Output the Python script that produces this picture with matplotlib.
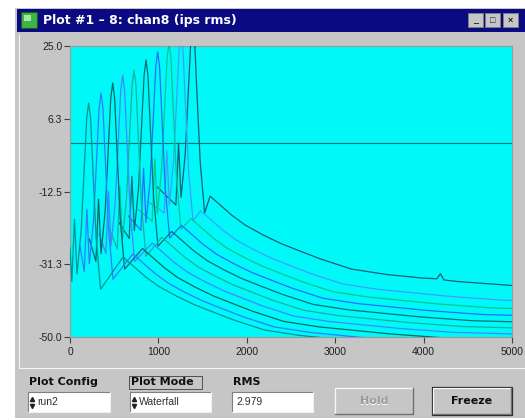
import matplotlib
matplotlib.use('Agg')
import matplotlib.pyplot as plt
from matplotlib.patches import Rectangle

plt.rcParams['font.family'] = ['Liberation Sans', 'DejaVu Sans']

# waterfall traces, front trace first (x in plot units, y in ips rms units)
knee_x = [600, 710, 820, 930, 1040, 1150, 1260, 1370, 1480, 1585]
knee_y = [-29.4, -28.6, -27.2, -25.8, -24.3, -22.8, -21.2, -19.5, -17.5, -13.7]
peak_x = [211, 351, 483, 596, 724, 860, 992, 1120, 1256, 1388]
peak_y = [10.3, 12.9, 15.5, 17.5, 18.8, 21.4, 23.5, 25.8, 28.0, 30.0]

# pieces of the spectrum shape shared by all traces
lead_dx = [0]
lead_dy = [-27.0]
peak_dx = [-190, -160, -132, -85, -50, -22, 0, 22, 50, 85, 135]
peak_dy = [-46, -30, -44, -33, -17, -4, 0, -4, -18, -35, -48]
tail_dx = [0, 100, 250, 400, 600, 800, 1000, 1250, 1600, 2000, 2400, 2800, 3400, 4400]
tail_dy = [0, -2, -5, -7.5, -10, -12.2, -14, -16.2, -18.8, -20.2, -21.1, -22.0, -23.0, -23.6]

# small blip on the back trace
blip_x = [4150, 4190, 4230]
blip_y = [-35.0, -33.7, -35.3]

trace_colors = ['#009494', '#2a7fff', '#006a6a', '#3a8cff', '#10b4a0',
                '#00707a', '#2070ff', '#00c890', '#3aa0ff', '#10607a']

y_ticks = [25, 6.25, -12.5, -31.25, -50]
y_labels = ['25.0', '6.3', '-12.5', '-31.3', '-50.0']
x_ticks = [0, 1000, 2000, 3000, 4000, 5000]

W, H = 525, 420
fig = plt.figure(figsize=(W / 100, H / 100), dpi=100)

# ---- window chrome, drawn in pixel coordinates ----
bg = fig.add_axes([0, 0, 1, 1])
bg.set_xlim(0, W)
bg.set_ylim(H, 0)
bg.axis('off')
bg.set_zorder(0)

GRAY = '#c6c6c6'
UI = ['DejaVu Sans']
bg.add_patch(Rectangle((15, 8), 512, 410, facecolor=GRAY, edgecolor='none'))
bg.add_patch(Rectangle((17, 9), 510, 23, facecolor='#0a0a82', edgecolor='none'))
# icon
bg.add_patch(Rectangle((21, 12), 16, 16, facecolor='#3cb44a', edgecolor='#1a5a1a', lw=0.8))
bg.add_patch(Rectangle((24, 15), 7, 6, facecolor='#a8e8a0', edgecolor='none'))
bg.text(43, 20.5, 'Plot #1 \u2013 8: chan8 (ips rms)', color='white', fontsize=9,
        fontweight='bold', va='center', ha='left', family=UI)
# title bar buttons
for bx, glyph in [(468, '_'), (485, '\u25a1'), (503, '\u00d7')]:
    bg.add_patch(Rectangle((bx, 13), 15, 14, facecolor=GRAY, edgecolor='#808080', lw=0.6))
    bg.text(bx + 7.5, 20.5, glyph, fontsize=6.5, fontweight='bold', ha='center',
            va='center', color='#202020')

# plot panel frame
bg.plot([19, 19], [35, 368], color='#f4f4f4', lw=0.8)
bg.plot([19, 525], [368, 368], color='#f4f4f4', lw=0.8)

# bottom controls
def field(x, y, w, h, txt, spinner):
    bg.add_patch(Rectangle((x, y), w, h, facecolor='white', edgecolor='none'))
    bg.plot([x, x, x + w], [y + h, y, y], color='#808080', lw=0.8)
    bg.plot([x, x + w, x + w], [y + h, y + h, y], color='#f0f0f0', lw=0.8)
    tx = x + 4
    if spinner:
        bg.plot([x + 4], [y + 6.5], marker='^', ms=3, color='#202020')
        bg.plot([x + 4], [y + 13.5], marker='v', ms=3, color='#202020')
        tx = x + 9
    bg.text(tx, y + h / 2, txt, fontsize=7.5, va='center', ha='left', color='#303030')

def button(x, y, w, h, txt, enabled):
    bg.add_patch(Rectangle((x, y), w, h, facecolor=GRAY, edgecolor='none'))
    bg.plot([x, x, x + w], [y + h, y, y], color='#f8f8f8', lw=0.9)
    bg.plot([x, x + w, x + w], [y + h, y + h, y], color='#707070', lw=1.0)
    if enabled:
        bg.add_patch(Rectangle((x - 1, y - 1), w + 2, h + 2, facecolor='none',
                               edgecolor='#202020', lw=0.9))
        bg.text(x + w / 2, y + h / 2 + 0.5, txt, fontsize=8, fontweight='bold',
                ha='center', va='center', color='#101010', family=UI)
    else:
        bg.text(x + w / 2 + 0.7, y + h / 2 + 1.2, txt, fontsize=8, fontweight='bold',
                ha='center', va='center', color='white', family=UI)
        bg.text(x + w / 2, y + h / 2 + 0.5, txt, fontsize=8, fontweight='bold',
                ha='center', va='center', color='#9a9a9a', family=UI)

bg.text(29, 382, 'Plot Config', fontsize=8, fontweight='bold', va='center',
        color='#101010', family=UI)
bg.text(131, 382, 'Plot Mode', fontsize=8, fontweight='bold', va='center',
        color='#101010', family=UI)
bg.add_patch(Rectangle((129, 375.5), 73, 13, facecolor='none', edgecolor='#505050', lw=0.7))
bg.text(233, 382, 'RMS', fontsize=8, fontweight='bold', va='center',
        color='#101010', family=UI)
field(28, 392, 82, 20, 'run2', True)
field(130, 392, 81, 20, 'Waterfall', True)
field(232, 392, 81, 20, '2.979', False)
button(335, 388, 78, 26, 'Hold', False)
button(433, 388, 78, 26, 'Freeze', True)

# ---- the waterfall plot ----
ax = fig.add_axes([70 / W, (H - 337) / H, 442 / W, 291 / H])
ax.set_zorder(1)
ax.set_facecolor('#00f8f8')
ax.axhline(0, color='#00707a', lw=0.8, zorder=1)

for k in range(len(knee_x)):
    x0 = knee_x[k] - knee_x[0]
    y0 = knee_y[k] - knee_y[0]
    xs = [x0 + v for v in lead_dx] + [peak_x[k] + v for v in peak_dx] + \
         [knee_x[k] + v for v in tail_dx]
    ys = [y0 + v for v in lead_dy] + [peak_y[k] + v for v in peak_dy] + \
         [knee_y[k] + v for v in tail_dy]
    if k == len(knee_x) - 1:
        pts = sorted(zip(xs + blip_x, ys + blip_y))
        xs = [p[0] for p in pts]
        ys = [p[1] for p in pts]
    ax.plot(xs, ys, color=trace_colors[k], lw=0.9, zorder=2 + (len(knee_x) - k))

ax.set_xlim(0, 5000)
ax.set_ylim(-50, 25)
ax.set_yticks(y_ticks)
ax.set_yticklabels(y_labels)
ax.set_xticks(x_ticks)
ax.tick_params(direction='out', length=4, width=0.8, colors='#404040',
               labelcolor='#202020', labelsize=7.5, pad=1.5)
ax.tick_params(axis='x', pad=3)
for s in ax.spines.values():
    s.set_color('#9a9a9a')
    s.set_linewidth(0.8)

plt.savefig('out.png', dpi=100)
